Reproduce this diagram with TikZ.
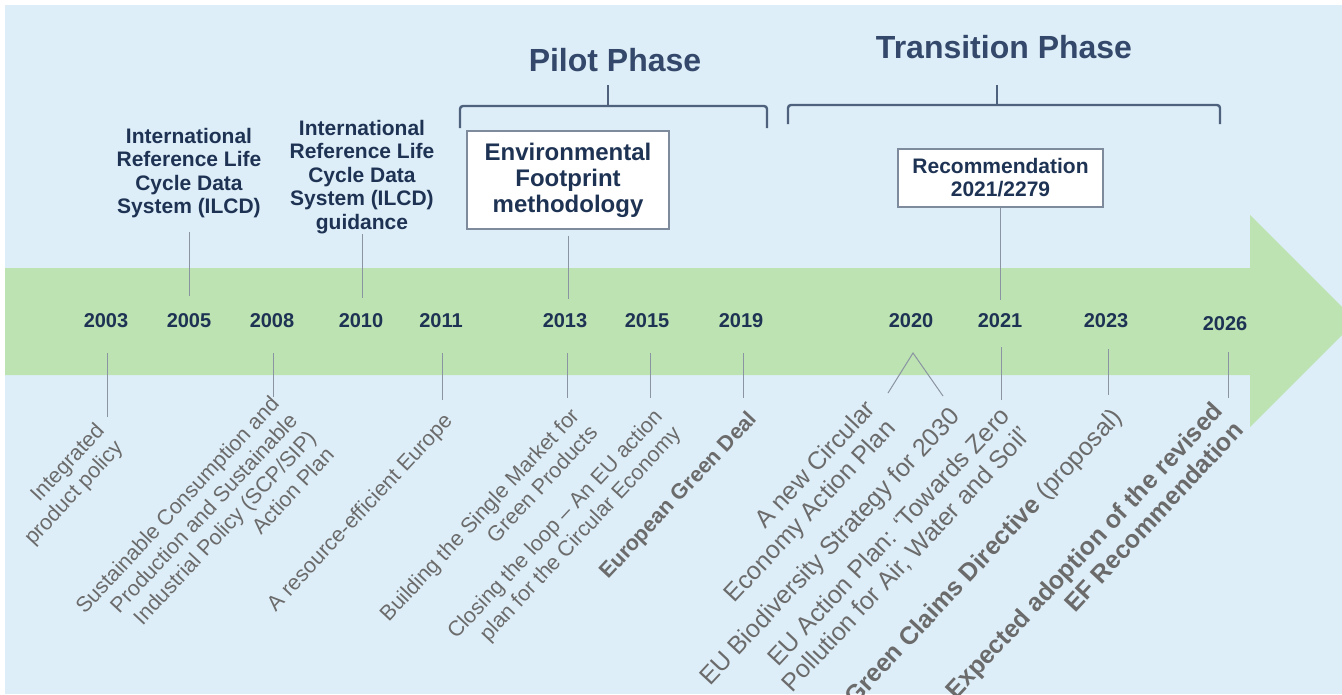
\documentclass[tikz,border=0pt]{standalone}
\usepackage{fontspec}
\setmainfont{Liberation Sans}
\usetikzlibrary{positioning,calc}
\definecolor{sky}{HTML}{DEEEF8}
\definecolor{leaf}{HTML}{BDE3B2}
\definecolor{navy}{HTML}{1E3354}
\definecolor{slate}{HTML}{33486A}
\definecolor{ink}{HTML}{6B6B6B}
\definecolor{rule}{HTML}{8A94A2}
\definecolor{frame}{HTML}{7D8B9D}
\definecolor{brace}{HTML}{4E627E}

\begin{document}
\begin{tikzpicture}[x=1pt,y=-1pt,
  year/.style={font=\fontsize{20}{24}\selectfont\bfseries,text=navy,anchor=base,inner sep=0pt},
  event/.style={font=\fontsize{21.5}{25}\selectfont,text=ink,align=right,rotate=47,anchor=north east,inner sep=0pt},
  bigevent/.style={event,font=\fontsize{25}{28}\selectfont},
  note/.style={font=\fontsize{21}{23.5}\selectfont\bfseries,text=navy,align=center,inner sep=0pt,anchor=north},
  milestone/.style={draw=frame,line width=1.2pt,fill=white,text=navy,align=center},
  phase/.style={font=\fontsize{32}{38}\selectfont\bfseries,text=slate,inner sep=0pt},
  link/.style={draw=rule,line width=1pt},
  phasebrace/.style={draw=brace,line width=2.4pt,rounded corners=3pt}]
\useasboundingbox (0,0) rectangle (1342,694);
\fill[white] (0,0) rectangle (1342,694);
\fill[sky] (5,5) rectangle (1342,694);
% timeline arrow
\fill[leaf] (5,268) -- (1250,268) -- (1250,215) -- (1356,321) -- (1250,427) -- (1250,375) -- (5,375) -- cycle;

% years on the arrow
\foreach \yr/\x in {2003/106,2005/189,2008/272,2010/361,2011/441,2013/565,2015/647,2019/741,2020/911,2021/1000,2023/1106}
  \node[year] (y\yr) at (\x,327) {\yr};
\node[year] (y2026) at (1225,330) {2026};

% phases
\node[phase] (pilot) at (615,60) {Pilot Phase};
\node[phase] (transition) at (1004,47) {Transition Phase};
\draw[phasebrace] (460,128) -- (460,106) -- (767,106) -- (767,128);
\coordinate (pilottick) at (608,85);
\draw[phasebrace] (pilottick) -- (608,106);
\draw[phasebrace] (788,124) -- (788,105) -- (1220,105) -- (1220,124);
\coordinate (transtick) at (997,85);
\draw[phasebrace] (transtick) -- (997,105);

% events above the arrow
\node[note] (ilcd) at (189,128) {International\\Reference Life\\Cycle Data\\System (ILCD)};
\node[note] (guide) at (362,120) {International\\Reference Life\\Cycle Data\\System (ILCD)\\guidance};
\node[milestone,font=\fontsize{24}{26}\selectfont\bfseries,minimum width=202pt,minimum height=98pt] (ef) at (568,180) {Environmental\\Footprint\\methodology};
\node[milestone,font=\fontsize{21}{23}\selectfont\bfseries,minimum width=205pt,minimum height=58pt] (rec) at (1000.5,178) {Recommendation\\2021/2279};

\coordinate (u2005) at (189,296);
\coordinate (u2010) at (362,298);
\coordinate (u2013) at (568,299);
\coordinate (u2021) at (1000.5,300);
\draw[link,shorten <=14pt] (ilcd.south) -- (u2005);
\draw[link] (guide.south) -- (u2010);
\draw[link,shorten <=6pt] (ef.south) -- (u2013);
\draw[link] (rec.south) -- (u2021);

% ticks below the arrow
\foreach \yr/\x/\a/\b in {2003/107/353/417,2008/273/353/397,2011/442/353/400,2013/567/353/398,2015/650/353/398,2019/743/353/398,2021/1001/347/400,2023/1108/349/395,2026/1228/352/398}{
  \coordinate (d\yr) at (\x,\a);
  \coordinate (e\yr) at (\x,\b);
  \draw[link] (d\yr) -- (e\yr);
}
\coordinate (v2020) at (913,353);
\coordinate (e2020a) at (888,393);
\coordinate (e2020b) at (943,396);
\draw[link] (e2020a) -- (v2020) -- (e2020b);

% events below the arrow
\node[event] (l2003) at (94,421) {Integrated\\product policy};
\node[event] (l2008) at (269,394) {Sustainable Consumption and\\Production and Sustainable\\Industrial Policy (SCP/SIP)\\Action Plan};
\node[event] (l2011) at (442,411) {A resource-efficient Europe};
\node[event] (l2013) at (569,406) {Building the Single Market for\\Green Products};
\node[event] (l2015) at (652,407) {Closing the loop -- An EU action\\plan for the Circular Economy};
\node[event,font=\fontsize{21.5}{25}\selectfont\bfseries] (l2019) at (746,409) {European Green Deal};
\node[bigevent] (l2020a) at (863,398) {A new Circular\\Economy Action Plan};
\node[bigevent] (l2020b) at (948,405) {EU Biodiversity Strategy for 2030};
\node[bigevent] (l2021) at (998,405) {EU Action Plan: `Towards Zero\\Pollution for Air, Water and Soil'};
\node[bigevent] (l2023) at (1110,406) {\textbf{Green Claims Directive} (proposal)};
\node[bigevent,font=\fontsize{25}{28}\selectfont\bfseries] (l2026) at (1211,400) {Expected adoption of the revised\\EF Recommendation};
\end{tikzpicture}
\end{document}
